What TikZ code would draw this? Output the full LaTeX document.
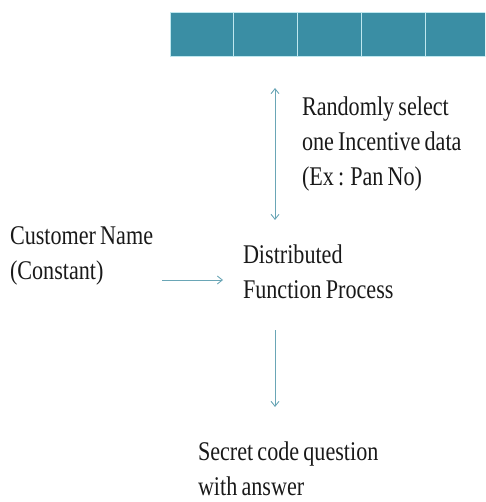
\documentclass[tikz,border=0pt]{standalone}
\usepackage{fontspec}
\setmainfont{Liberation Serif}[FakeStretch=0.82,WordSpace=0.75]
\usetikzlibrary{arrows.meta}
\definecolor{barteal}{HTML}{3A8EA4}
\definecolor{barline}{HTML}{BFE8EF}
\definecolor{arrowteal}{HTML}{6AA6B6}
\tikzset{
  cellbox/.style={draw=barline,line width=1pt,fill=barteal,minimum width=63.8pt,minimum height=44pt,inner sep=0pt,outer sep=0pt,anchor=north west},
  label text/.style={font=\fontsize{27}{35}\selectfont,align=left,inner sep=0pt,outer sep=0pt,anchor=north west,text=black!90},
  conn/.style={draw=arrowteal,line width=0.9pt},
  tip/.style={-{Straight Barb[length=5pt,width=8pt,line width=0.9pt]}},
  tips/.style={{Straight Barb[length=5pt,width=8pt,line width=0.9pt]}-{Straight Barb[length=5pt,width=8pt,line width=0.9pt]}}
}
\begin{document}
\begin{tikzpicture}[x=1pt,y=-1pt]
\useasboundingbox (0,0) rectangle (485,502);
\clip (0,0) rectangle (485,502);
\node[cellbox] (c1) at (170,13) {};
\node[cellbox] (c2) at (233.8,13) {};
\node[cellbox] (c3) at (297.6,13) {};
\node[cellbox] (c4) at (361.4,13) {};
\node[cellbox] (c5) at (425.2,13) {};
\node[label text] (rand) at (302,97) {Randomly select\\one Incentive data\\(Ex : Pan No)};
\node[label text] (cust) at (10,227) {Customer Name\\(Constant)};
\node[label text] (dist) at (243,245) {Distributed\\Function Process};
\node[label text] (sec) at (198,442) {Secret code question\\with answer};
\coordinate (vtop) at (275,88);
\coordinate (vbot) at (275,220);
\coordinate (hs) at (162,280);
\coordinate (he) at (223,280);
\coordinate (dtop) at (275,330);
\coordinate (dbot) at (275,407);
\draw[conn,tips] (vtop) -- (vbot);
\draw[conn,tip] (hs) -- (he);
\draw[conn,tip] (dtop) -- (dbot);
\end{tikzpicture}
\end{document}
